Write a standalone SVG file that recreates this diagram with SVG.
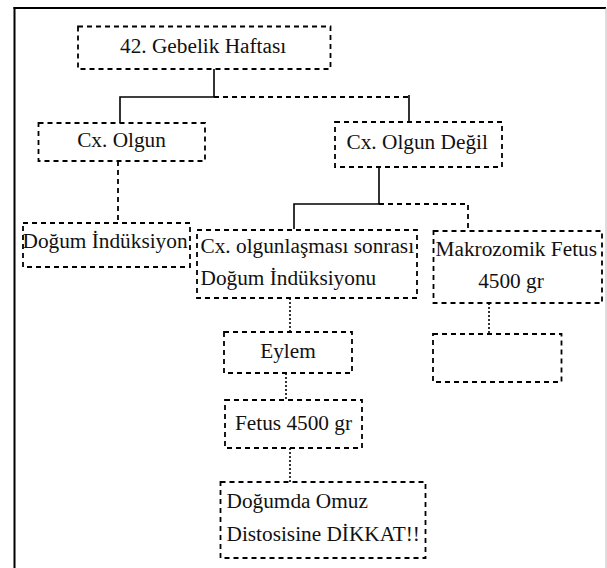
<svg xmlns="http://www.w3.org/2000/svg" width="607" height="568" viewBox="0 0 607 568">
<style>
.box{fill:none;stroke:#000;stroke-width:1.8;stroke-dasharray:5 4}
text{font-family:'Liberation Serif','DejaVu Serif','Times New Roman',serif;font-size:21.3px;fill:#111}
.c{text-anchor:middle}
.solid{fill:none;stroke:#000;stroke-width:1.6}
.dash{fill:none;stroke:#000;stroke-width:1.8;stroke-dasharray:5 4}
.dot{fill:none;stroke:#000;stroke-width:1.6;stroke-dasharray:2 2}
</style>
<rect x="0" y="0" width="607" height="568" fill="#fff"/>
<g id="frame">
<line x1="14.5" y1="7" x2="14.5" y2="568" stroke="#000" stroke-width="2"/>
<line x1="13.5" y1="8" x2="606" y2="8" stroke="#000" stroke-width="2"/>
<line x1="606" y1="8" x2="606" y2="568" stroke="#bbb" stroke-width="1"/>
</g>
<g id="connectors">
<polyline class="solid" points="214,69 214,97 120,97 120,123"/>
<line class="dash" x1="214" y1="97" x2="409" y2="97"/>
<line class="solid" x1="409" y1="95" x2="409" y2="121" stroke-width="1.2"/>
<line class="dash" x1="118" y1="161" x2="118" y2="223"/>
<polyline class="solid" points="379,167 379,204 294,204 294,229"/>
<polyline class="dash" points="379,204 468,204 468,230"/>
<line class="dot" x1="290" y1="298" x2="290" y2="332"/>
<line class="dot" x1="489" y1="303" x2="489" y2="334"/>
<line class="dot" x1="286" y1="373" x2="286" y2="400"/>
<line class="dot" x1="290" y1="448" x2="290" y2="482"/>
</g>
<g id="n1"><rect class="box" x="78" y="26.5" width="252.5" height="42.5"/><text font-family="Liberation Serif, serif" x="120" y="52.5">42. Gebelik Haftası</text></g>
<g id="n2"><rect class="box" x="38.5" y="123" width="166.5" height="38"/><text font-family="Liberation Serif, serif" class="c" x="121.5" y="147">Cx. Olgun</text></g>
<g id="n3"><rect class="box" x="335" y="122" width="167" height="45"/><text font-family="Liberation Serif, serif" x="346.5" y="148.5">Cx. Olgun Değil</text></g>
<g id="n4"><rect class="box" x="23" y="223" width="167" height="44"/><text font-family="Liberation Serif, serif" x="22.5" y="248">Doğum İndüksiyon</text></g>
<g id="n5"><rect class="box" x="197" y="230" width="220" height="68"/><text font-family="Liberation Serif, serif" x="200.5" y="252.5">Cx. olgunlaşması sonrası</text><text font-family="Liberation Serif, serif" x="200.5" y="284.5">Doğum İndüksiyonu</text></g>
<g id="n6"><rect class="box" x="433.5" y="231" width="168.5" height="72"/><text font-family="Liberation Serif, serif" x="435.5" y="255.5">Makrozomik Fetus</text><text font-family="Liberation Serif, serif" class="c" x="511" y="287.5">4500 gr</text></g>
<g id="n7"><rect class="box" x="224" y="332" width="128" height="41"/><text font-family="Liberation Serif, serif" class="c" x="288" y="357.5">Eylem</text></g>
<g id="n8"><rect class="box" x="433" y="334" width="128.5" height="48"/></g>
<g id="n9"><rect class="box" x="225" y="400" width="137" height="48"/><text font-family="Liberation Serif, serif" class="c" x="293.5" y="429.5">Fetus 4500 gr</text></g>
<g id="n10"><rect class="box" x="220.5" y="482" width="205" height="76"/><text font-family="Liberation Serif, serif" x="226.5" y="508">Doğumda Omuz</text><text font-family="Liberation Serif, serif" x="226.5" y="540.5">Distosisine DİKKAT!!</text></g>
</svg>
